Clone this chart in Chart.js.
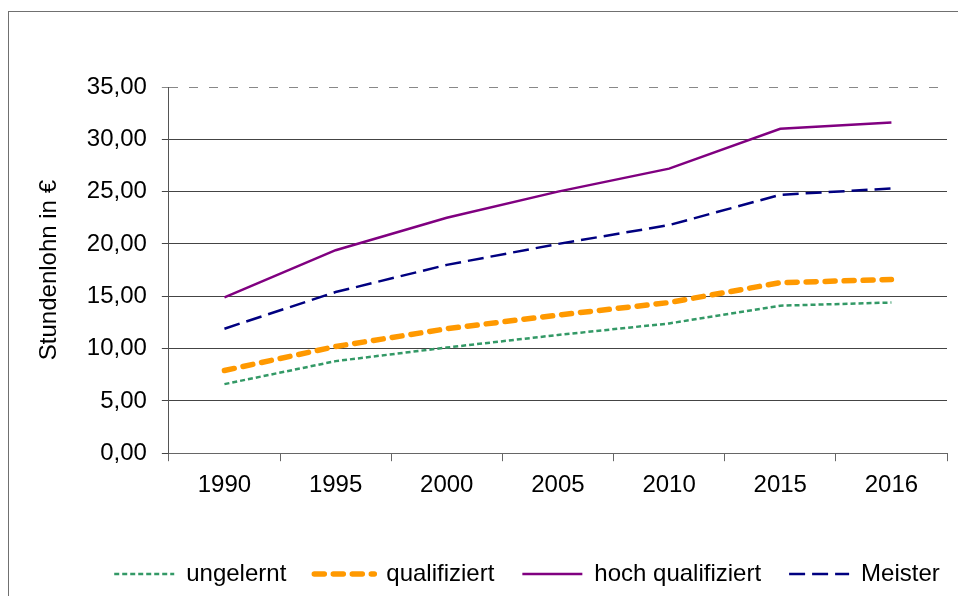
<!DOCTYPE html>
<html>
<head>
<meta charset="utf-8">
<script src="https://cdn.jsdelivr.net/npm/chart.js@4/dist/chart.umd.min.js"></script>
<style>
  html, body { margin: 0; padding: 0; background: #fff; overflow: hidden; }
  #wrap { position: relative; width: 958px; height: 596px; }
  #frame { position: absolute; left: 8px; top: 11px; width: 980px; height: 620px; border: 1px solid #707070; }
  #chart { position: absolute; left: 0; top: 0; }
</style>
</head>
<body>
<div id="wrap">
  <div id="frame"></div>
  <canvas id="chart" width="958" height="596"></canvas>
</div>
<script>
// --- data ---
const years = ['1990', '1995', '2000', '2005', '2010', '2015', '2016'];
const ungelernt = [6.6, 8.8, 10.1, 11.3, 12.4, 14.1, 14.4];
const qualifiziert = [7.9, 10.2, 11.9, 13.2, 14.4, 16.3, 16.6];
const hochQualifiziert = [14.9, 19.4, 22.5, 25.0, 27.2, 31.0, 31.6];
const meister = [11.9, 15.4, 18.0, 20.0, 21.8, 24.7, 25.3];

const seriesNames = ['ungelernt', 'qualifiziert', 'hoch qualifiziert', 'Meister'];
const yTitle = 'Stundenlohn in €';

const font = 'Liberation Sans, Arial, sans-serif';
Chart.defaults.font.family = font;
Chart.defaults.font.size = 24;
Chart.defaults.color = '#000';

// move the legend a bit to the right, like in the original
const legendShift = {
  id: 'legendShift',
  afterLayout(chart) {
    chart.legend.left += 36;
    chart.legend.right += 36;
  }
};

const line = (label, data, color, width, dash, cap) => ({
  label: label,
  data: data,
  borderColor: color,
  backgroundColor: color,
  borderWidth: width,
  borderDash: dash,
  borderCapStyle: cap || 'butt',
  pointRadius: 0,
  pointHoverRadius: 0,
  tension: 0,
  fill: false
});

new Chart(document.getElementById('chart'), {
  type: 'line',
  data: {
    labels: years,
    datasets: [
      line(seriesNames[0], ungelernt, '#339966', 2.5, [5, 3]),
      line(seriesNames[1], qualifiziert, '#FF9900', 5.5, [10, 9], 'round'),
      line(seriesNames[2], hochQualifiziert, '#800080', 2.5, []),
      line(seriesNames[3], meister, '#000080', 2.5, [16, 7])
    ]
  },
  options: {
    responsive: false,
    animation: false,
    layout: { padding: { top: 87, right: 11, bottom: 0, left: 35 } },
    plugins: {
      tooltip: { enabled: false },
      legend: {
        position: 'bottom',
        labels: {
          usePointStyle: true,
          pointStyle: 'line',
          pointStyleWidth: 60,
          padding: 28,
          font: { size: 24 },
          // keep the dash pattern of each line in the legend
          generateLabels: (chart) => {
            const items = Chart.defaults.plugins.legend.labels.generateLabels(chart);
            items.forEach((item) => {
              const ds = chart.data.datasets[item.datasetIndex];
              item.lineDash = ds.borderDash;
              item.lineWidth = ds.borderWidth;
              item.lineCap = ds.borderCapStyle;
              item.strokeStyle = ds.borderColor;
            });
            return items;
          }
        }
      }
    },
    scales: {
      x: {
        offset: true,
        grid: {
          offset: true,
          drawOnChartArea: false,
          drawTicks: true,
          tickLength: 8,
          color: '#666'
        },
        border: { color: '#666', width: 1 },
        ticks: { padding: 10, maxRotation: 0, font: { size: 24 } },
        afterFit: (scale) => { scale.height += 24; }
      },
      y: {
        min: 0,
        max: 35,
        ticks: {
          stepSize: 5,
          padding: 15,
          font: { size: 24 },
          callback: (v) => v.toFixed(2).replace('.', ',')
        },
        grid: {
          color: (ctx) => ctx.tick && ctx.tick.value === 35 ? '#888' : '#444',
          tickLength: 7,
          drawTicks: true
        },
        border: {
          color: '#555',
          dash: (ctx) => ctx.tick && ctx.tick.value === 35 ? [9, 11] : []
        },
        title: {
          display: true,
          text: yTitle,
          font: { size: 24 },
          padding: { top: 0, bottom: 8 }
        }
      }
    }
  },
  plugins: [legendShift]
});
</script>
</body>
</html>
